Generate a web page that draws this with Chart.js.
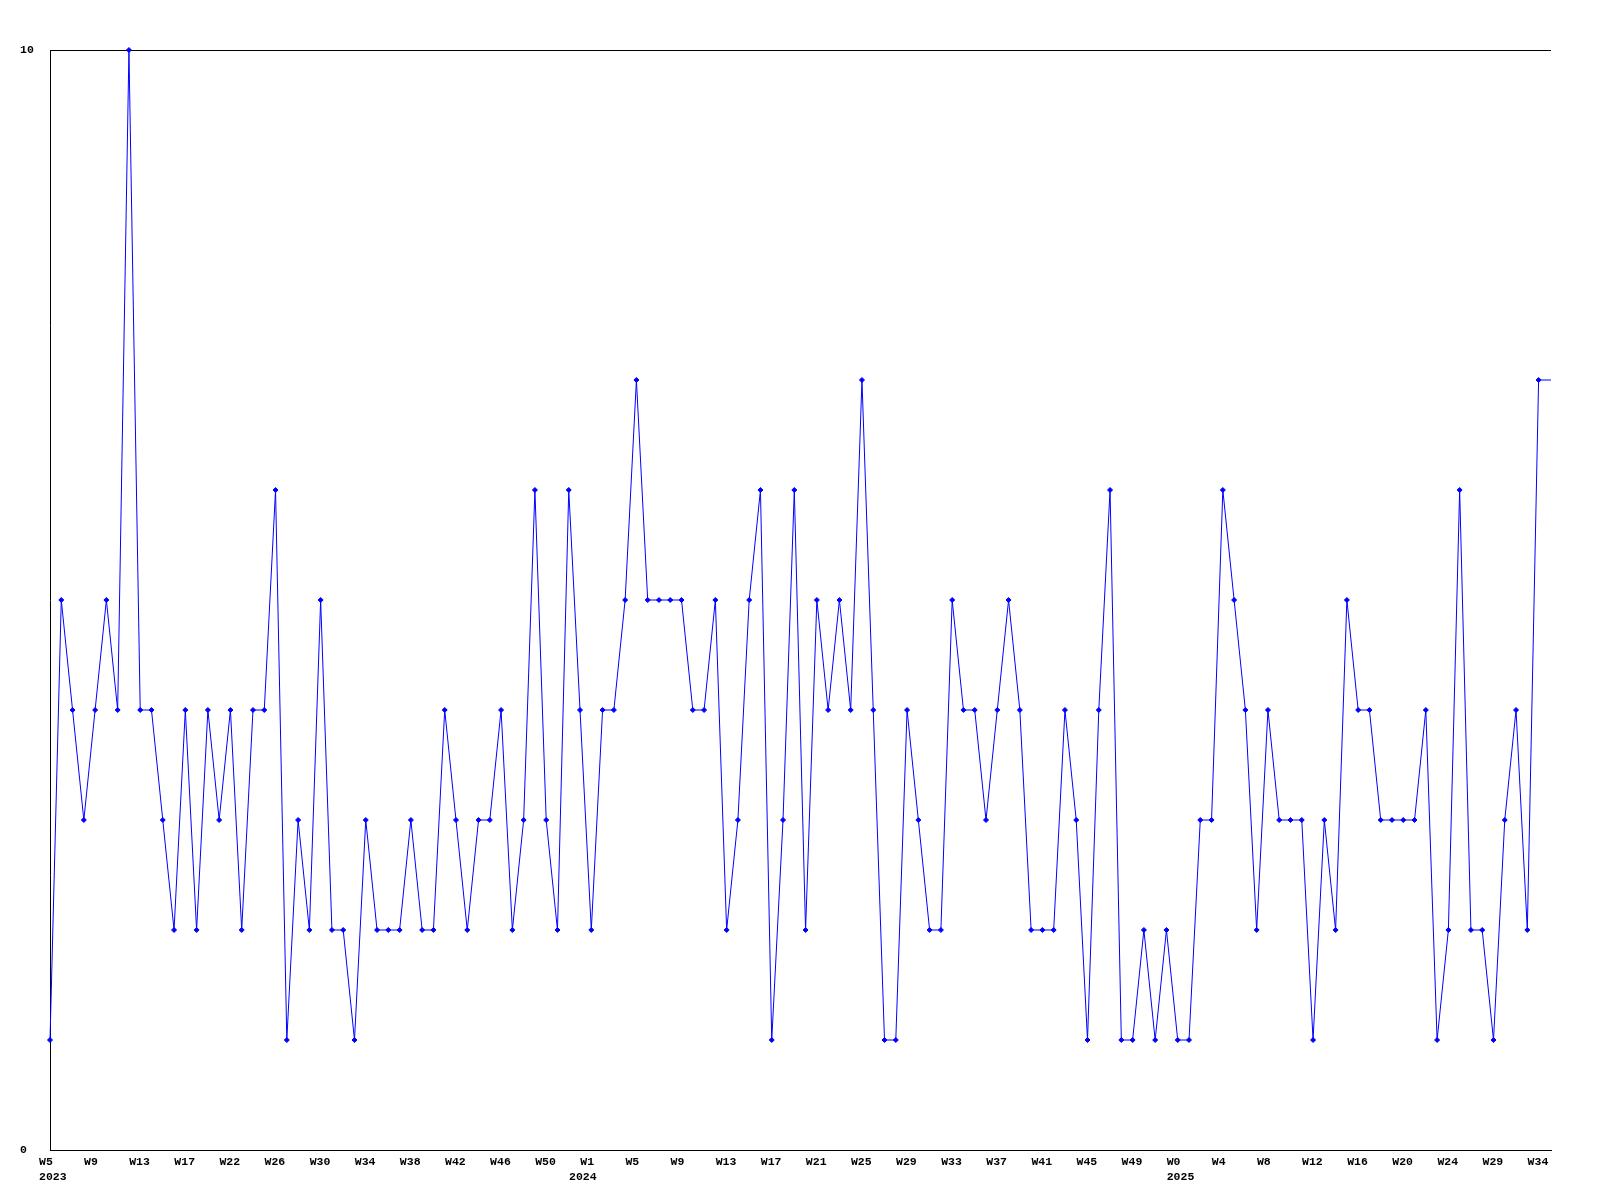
<!DOCTYPE html>
<html>
<head>
<meta charset="utf-8">
<script src="https://cdn.jsdelivr.net/npm/chart.js@4/dist/chart.umd.min.js"></script>
<style>
	body { margin: 0; background: #fff; }
	#wrap { width: 1600px; height: 1200px; }
</style>
</head>
<body>
<div id="wrap"><canvas id="myChart" width="1600" height="1200"></canvas></div>
<script>
const lineColor = '#0000ff'
const axisColor = '#000000'

// weekly counts, W5 2023 .. W34 2025
const weekValues = [
	1, 5, 4, 3, 4, 5, 4, 10, 4, 4,
	3, 2, 4, 2, 4, 3, 4, 2, 4, 4,
	6, 1, 3, 2, 5, 2, 2, 1, 3, 2,
	2, 2, 3, 2, 2, 4, 3, 2, 3, 3,
	4, 2, 3, 6, 3, 2, 6, 4, 2, 4,
	4, 5, 7, 5, 5, 5, 5, 4, 4, 5,
	2, 3, 5, 6, 1, 3, 6, 2, 5, 4,
	5, 4, 7, 4, 1, 1, 4, 3, 2, 2,
	5, 4, 4, 3, 4, 5, 4, 2, 2, 2,
	4, 3, 1, 4, 6, 1, 1, 2, 1, 2,
	1, 1, 3, 3, 6, 5, 4, 2, 4, 3,
	3, 3, 1, 3, 2, 5, 4, 4, 3, 3,
	3, 3, 4, 1, 2, 6, 2, 2, 1, 3,
	4, 2, 7
]

// one label every 4 weeks
const weekLabels = [
	'W5', 'W9', 'W13', 'W17', 'W22', 'W26', 'W30', 'W34', 'W38', 'W42', 'W46', 'W50',
	'W1', 'W5', 'W9', 'W13', 'W17', 'W21', 'W25', 'W29', 'W33', 'W37', 'W41', 'W45', 'W49',
	'W0', 'W4', 'W8', 'W12', 'W16', 'W20', 'W24', 'W29', 'W34'
]
const yearLabels = ['2023', '2024', '2025']
const yearWeeks = [0, 47, 100]   // week index where each year label sits

const labelEvery = 4
const xEnd = 133.1   // axis runs a little past the last week

var points = []
for (var i = 0; i < weekValues.length; i++) {
	points.push({ x: i, y: weekValues[i] })
}
// the current week carries the last value to the end of the axis
points.push({ x: xEnd, y: weekValues[weekValues.length - 1] })

var radii = points.map(function (p, i) { return i < weekValues.length ? 2.5 : 0 })

var tickFont = { family: '"Liberation Mono", "DejaVu Sans Mono", monospace', size: 11.5, weight: 'bold', lineHeight: 1.28 }

var ctx = document.getElementById('myChart')
var lineChart = new Chart(ctx, {
	type: 'line',
	data: {
		datasets: [{
			data: points,
			borderColor: lineColor,
			backgroundColor: lineColor,
			borderWidth: 1,
			tension: 0,
			fill: false,
			clip: 6,
			pointStyle: 'rectRot',
			pointRadius: radii,
			pointBorderWidth: 1,
			pointBackgroundColor: lineColor,
			pointBorderColor: lineColor
		}]
	},
	options: {
		responsive: false,
		animation: false,
		devicePixelRatio: 1,
		layout: { padding: { left: 20, top: 50, right: 49, bottom: 0 } },
		plugins: {
			legend: { display: false },
			tooltip: { enabled: false },
			title: { display: false }
		},
		scales: {
			x: {
				type: 'linear',
				min: 0,
				max: xEnd,
				weight: 0,
				grid: { display: false, drawTicks: false },
				border: { display: true, color: axisColor, width: 1 },
				afterBuildTicks: function (scale) {
					scale.ticks = weekLabels.map(function (l, i) { return { value: i * labelEvery } })
				},
				afterFit: function (scale) { scale.height = 20 },
				ticks: {
					autoSkip: false,
					maxRotation: 0,
					minRotation: 0,
					align: 'start',
					labelOffset: -11,
					padding: 5,
					color: axisColor,
					font: tickFont,
					callback: function (value) {
						return weekLabels[Math.round(value / labelEvery)]
					}
				}
			},
			xYear: {
				type: 'linear',
				position: 'bottom',
				min: 0,
				max: xEnd,
				weight: 1,
				grid: { display: false, drawTicks: false },
				border: { display: false },
				afterBuildTicks: function (scale) {
					scale.ticks = yearWeeks.map(function (w) { return { value: w } })
				},
				afterFit: function (scale) { scale.height = 30 },
				ticks: {
					autoSkip: false,
					maxRotation: 0,
					minRotation: 0,
					align: 'start',
					labelOffset: -11,
					padding: 0,
					color: axisColor,
					font: tickFont,
					callback: function (value) {
						return yearLabels[yearWeeks.indexOf(value)]
					}
				}
			},
			y: {
				min: 0,
				max: 10,
				grid: { color: axisColor, lineWidth: 1, drawTicks: false },
				border: { display: true, color: axisColor, width: 1 },
				afterFit: function (scale) { scale.width = 30 },
				ticks: {
					stepSize: 10,
					crossAlign: 'far',
					color: axisColor,
					font: tickFont
				}
			}
		}
	}
})
</script>
</body>
</html>
